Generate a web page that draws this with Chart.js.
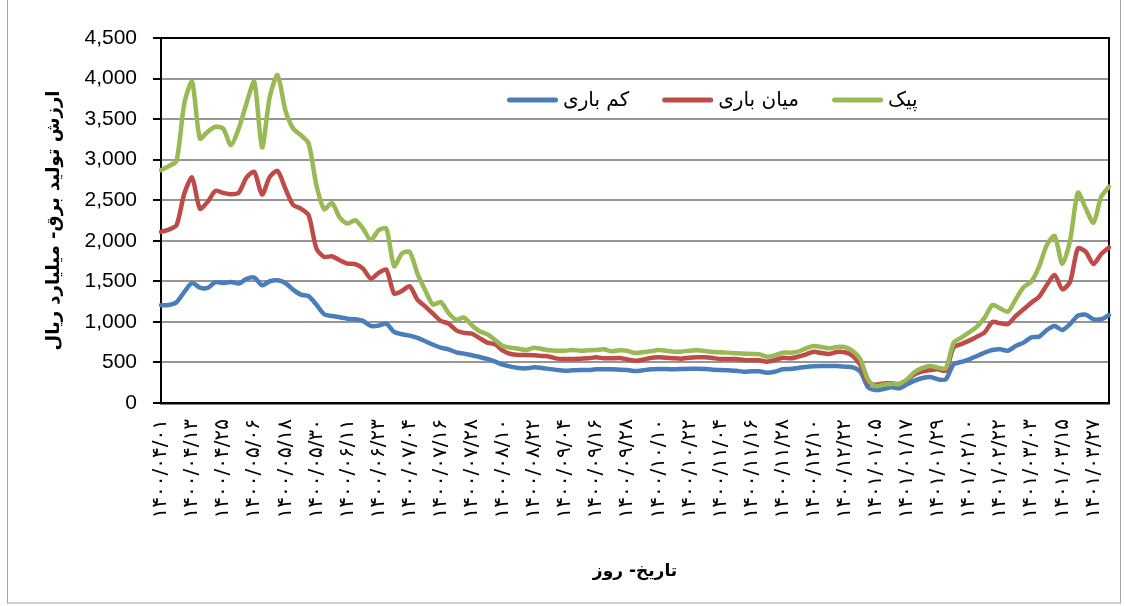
<!DOCTYPE html>
<html><head><meta charset="utf-8">
<script src="https://cdn.jsdelivr.net/npm/chart.js@4.4.1/dist/chart.umd.min.js"></script>
<style>html,body{margin:0;padding:0;background:#fff;}canvas{display:block;}</style>
</head><body>
<canvas id="c" width="1125" height="606"></canvas>
<script>
// Tick labels shown every 12 days (every 4th sample; samples are every 3 days)
const tickLabels = [
  '۱۴۰۰/۰۴/۰۱','۱۴۰۰/۰۴/۱۳','۱۴۰۰/۰۴/۲۵','۱۴۰۰/۰۵/۰۶','۱۴۰۰/۰۵/۱۸','۱۴۰۰/۰۵/۳۰',
  '۱۴۰۰/۰۶/۱۱','۱۴۰۰/۰۶/۲۳','۱۴۰۰/۰۷/۰۴','۱۴۰۰/۰۷/۱۶','۱۴۰۰/۰۷/۲۸','۱۴۰۰/۰۸/۱۰',
  '۱۴۰۰/۰۸/۲۲','۱۴۰۰/۰۹/۰۴','۱۴۰۰/۰۹/۱۶','۱۴۰۰/۰۹/۲۸','۱۴۰۰/۱۰/۱۰','۱۴۰۰/۱۰/۲۲',
  '۱۴۰۰/۱۱/۰۴','۱۴۰۰/۱۱/۱۶','۱۴۰۰/۱۱/۲۸','۱۴۰۰/۱۲/۱۰','۱۴۰۰/۱۲/۲۲','۱۴۰۱/۰۱/۰۵',
  '۱۴۰۱/۰۱/۱۷','۱۴۰۱/۰۱/۲۹','۱۴۰۱/۰۲/۱۰','۱۴۰۱/۰۲/۲۲','۱۴۰۱/۰۳/۰۳','۱۴۰۱/۰۳/۱۵',
  '۱۴۰۱/۰۳/۲۷'
];
const samplesPerTick = 4;

const seriesNames = ['کم باری', 'میان باری', 'پیک'];

const lowLoad = [
  1205,1209,1242,1369,1480,1423,1419,1489,1480,1493,1472,1530,1546,1452,1501,1513,1480,1398,1336,1316,
  1213,1094,1073,1057,1040,1032,1012,950,954,979,876,847,831,802,761,720,683,662,625,609,588,567,
  543,510,473,448,432,427,440,432,419,407,399,403,407,407,415,415,415,411,407,395,403,415,419,419,
  415,419,423,423,419,411,407,403,399,386,390,390,374,386,415,419,432,444,452,456,456,
  456,448,440,386,193,160,173,193,181,230,275,308,321,292,292,477,506,538,580,621,653,662,645,703,
  744,810,818,900,949,900,974,1077,1089,1032,1032,1085
];
const midLoad = [
  2110,2138,2192,2582,2780,2397,2480,2615,2591,2574,2591,2780,2850,2570,2788,2862,2644,2443,2397,2315,
  1904,1801,1809,1760,1719,1711,1657,1534,1604,1645,1349,1382,1439,1275,1192,1102,1012,979,896,864,855,800,
  744,723,645,604,592,592,588,580,571,547,543,543,547,551,563,551,551,555,538,522,534,555,563,559,
  551,547,559,563,563,555,543,543,543,530,526,526,510,530,559,551,571,600,633,616,604,
  629,625,584,469,251,226,242,242,234,284,353,390,407,415,399,686,727,769,818,871,999,982,974,1073,
  1155,1237,1311,1455,1578,1402,1496,1907,1866,1714,1837,1919
];
const peakLoad = [
  2870,2920,2985,3693,3960,3261,3343,3405,3384,3179,3384,3693,3960,3150,3775,4042,3610,3384,3302,3199,
  2685,2389,2467,2286,2212,2253,2151,2007,2130,2151,1686,1842,1863,1595,1390,1213,1246,1110,1028,1053,958,884,
  847,777,703,682,670,653,682,666,649,645,645,653,645,649,653,662,637,649,645,616,625,637,653,645,
  633,633,645,649,641,629,625,621,612,608,604,600,571,588,621,621,633,674,703,690,674,
  690,690,641,538,284,206,226,234,234,292,382,432,456,436,427,744,806,871,941,1052,1208,1167,1126,1278,
  1426,1496,1681,1948,2059,1714,2010,2593,2400,2224,2544,2667
];

const yTitle = 'ارزش تولید برق- میلیارد ریال';
const xTitle = 'تاریخ- روز';

const categories = lowLoad.map((_, i) =>
  (i % samplesPerTick === 0 && tickLabels[i / samplesPerTick]) ? tickLabels[i / samplesPerTick] : '');

const colors = { low: '#4A7EBB', mid: '#BE4B48', peak: '#98B954' };
const arabicFont = "'DejaVu Sans', 'Noto Sans', sans-serif";

const framePlugin = {
  id: 'frame',
  beforeDraw(chart) {
    const { ctx } = chart;
    ctx.save();
    ctx.fillStyle = '#ffffff';
    ctx.fillRect(0, 0, chart.width, chart.height);
    ctx.strokeStyle = '#a6a6a6';
    ctx.lineWidth = 1;
    ctx.strokeRect(7.5, -2, chart.width - 12, chart.height - 1);
    ctx.restore();
  },
  beforeDatasetsDraw(chart) {
    const { ctx, chartArea: a } = chart;
    ctx.save();
    ctx.strokeStyle = '#000';
    ctx.lineWidth = 2;
    ctx.strokeRect(a.left, a.top, a.right - a.left, a.bottom - a.top);
    ctx.restore();
  },
  afterDatasetsDraw(chart) {
    // In-plot legend: [line][label] items, left to right: low, mid, peak
    const { ctx, chartArea: a } = chart;
    const w = a.right - a.left, h = a.bottom - a.top;
    let x = a.left + w * 0.365;
    const y = a.top + h * 0.17;
    const lineLen = 51, gapText = 5, gapItem = 33;
    ctx.save();
    ctx.font = "20px " + arabicFont;
    ctx.textBaseline = 'middle';
    ctx.textAlign = 'left';
    const order = [2, 1, 0];
    order.forEach(di => {
      const ds = chart.data.datasets[di];
      ctx.strokeStyle = ds.borderColor;
      ctx.lineWidth = 5;
      ctx.lineCap = 'round';
      ctx.beginPath();
      ctx.moveTo(x + 2.5, y);
      ctx.lineTo(x + lineLen - 2.5, y);
      ctx.stroke();
      x += lineLen + gapText;
      ctx.fillStyle = '#000';
      ctx.fillText(ds.label, x, y + 1);
      x += ctx.measureText(ds.label).width + gapItem;
    });
    ctx.restore();
  }
};

new Chart(document.getElementById('c'), {
  type: 'line',
  data: {
    labels: categories,
    datasets: [
      { label: seriesNames[2], data: peakLoad, borderColor: colors.peak, backgroundColor: colors.peak },
      { label: seriesNames[1], data: midLoad, borderColor: colors.mid, backgroundColor: colors.mid },
      { label: seriesNames[0], data: lowLoad, borderColor: colors.low, backgroundColor: colors.low }
    ]
  },
  options: {
    responsive: false,
    animation: false,
    locale: 'en-US',
    layout: { padding: { top: 38, right: 16, left: 0, bottom: 0 } },
    elements: {
      point: { radius: 0, hoverRadius: 0 },
      line: { borderWidth: 4.5, tension: 0.25, borderJoinStyle: 'round', borderCapStyle: 'round', fill: false }
    },
    plugins: {
      tooltip: { enabled: false },
      legend: { display: false }
    },
    scales: {
      x: {
        type: 'category',
        offset: false,
        grid: { display: false, drawTicks: false },
        border: { display: true, color: '#000', width: 2.5 },
        ticks: {
          autoSkip: false, minRotation: 90, maxRotation: 90, padding: 16,
          color: '#000', font: { family: arabicFont, size: 20 },
          callback(v, i) { return categories[i]; }
        },
        title: {
          display: true, text: xTitle, color: '#000',
          font: { family: arabicFont, size: 17, weight: 'bold' },
          padding: { top: 0, bottom: 24 }
        },
        afterFit(scale) { scale.height = 203; scale.paddingLeft = 0; scale.paddingRight = 0; }
      },
      y: {
        min: 0, max: 4500,
        grid: { color: '#969696', lineWidth: 2, drawTicks: true, tickLength: 8, tickColor: '#000', tickWidth: 2 },
        border: { display: true, color: '#000', width: 2 },
        ticks: {
          stepSize: 500, padding: 16, color: '#000',
          font: { family: "'Liberation Sans', Arial, sans-serif", size: 21 }
        },
        title: {
          display: true, text: yTitle, color: '#000',
          font: { family: arabicFont, size: 18, weight: 'bold' },
          padding: { top: 44, bottom: 0 }
        },
        afterFit(scale) { scale.width = 161; }
      }
    }
  },
  plugins: [framePlugin]
});
</script>
</body></html>
